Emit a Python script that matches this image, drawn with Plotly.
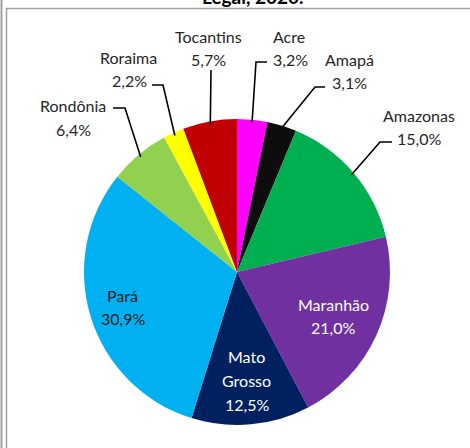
import math
import plotly.graph_objects as go

# ---- data ----
states = ["Acre", "Amapá", "Amazonas", "Maranhão", "Mato Grosso", "Pará",
          "Rondônia", "Roraima", "Tocantins"]
shares = [3.2, 3.1, 15.0, 21.0, 12.5, 30.9, 6.4, 2.2, 5.7]
value_labels = ["3,2%", "3,1%", "15,0%", "21,0%", "12,5%", "30,9%", "6,4%", "2,2%", "5,7%"]
colors = ["#FF00FF", "#0D0D0D", "#00B050", "#7030A0", "#002060", "#00B0F0",
          "#92D050", "#FFFF00", "#C00000"]
title_text = "Legal, 2020."

W, H = 470, 448
CX, CY, R = 237, 272, 153  # pie centre / radius in pixels (layout)


def px(x):
    return x / W


def py(y):
    return 1 - y / H


fig = go.Figure(go.Pie(
    labels=states, values=shares, sort=False, direction="clockwise", rotation=0,
    marker=dict(colors=colors, line=dict(width=0)), textinfo="none",
    hoverinfo="label+percent", showlegend=False,
    domain=dict(x=[px(CX - R), px(CX + R)], y=[py(CY + R), py(CY - R)]),
))

FONT = "Lato, 'Open Sans', sans-serif"
FS = 16

# slice mid angles (clockwise from 12 o'clock) derived from data
total = sum(shares)
mid = {}
cum = 0.0
for s, v in zip(states, shares):
    mid[s] = (cum + v / 2) / total * 2 * math.pi
    cum += v


def edge_point(s, f):
    a = mid[s]
    return CX + f * R * math.sin(a), CY - f * R * math.cos(a)


annotations = []
shapes = []

def add_text(x, y, t, color="#262626", size=FS, bold=False):
    annotations.append(dict(
        x=px(x), y=py(y), xref="paper", yref="paper", text=("<b>%s</b>" % t if bold else t),
        showarrow=False, xanchor="center", yanchor="middle",
        font=dict(family=FONT, size=size, color=color)))

# outside labels: (name centre, value centre, leader elbow horizontal segment)
outside = {
    "Tocantins": ((208, 37), (208, 60), [(211, 70)]),
    "Acre": ((289, 37), (290, 60), [(267, 62), (256, 62)]),
    "Amapá": ((349, 59), (349, 82), [(325, 87), (315, 87)]),
    "Amazonas": ((419, 115), (419, 138), [(392, 142), (380, 142)]),
    "Roraima": ((128, 58), (129, 80), [(152, 85), (163, 85)]),
    "Rondônia": ((73, 106), (73, 129), [(113, 108), (125, 108)]),
}
for s, (nc, vc, pts) in outside.items():
    i = states.index(s)
    add_text(nc[0], nc[1], s)
    add_text(vc[0], vc[1], value_labels[i])
    ex, ey = edge_point(s, 0.98)
    path_pts = pts + [(ex, ey)]
    d = "M %f %f " % (px(path_pts[0][0]), py(path_pts[0][1]))
    for (x, y) in path_pts[1:]:
        d += "L %f %f " % (px(x), py(y))
    shapes.append(dict(type="path", path=d, xref="paper", yref="paper",
                       line=dict(color="#000000", width=1.6)))

# inside labels placed along slice mid angles
inside = {
    "Maranhão": (0.69, "#FFFFFF"),
    "Pará": (0.78, "#1A1A1A"),
}
for s, (f, col) in inside.items():
    i = states.index(s)
    x, y = edge_point(s, f)
    add_text(x, y - 11.5, s, col)
    add_text(x, y + 11.5, value_labels[i], col)

# Mato Grosso (three lines)
i = states.index("Mato Grosso")
x, y = edge_point("Mato Grosso", 0.71)
add_text(x, y - 24, "Mato", "#FFFFFF")
add_text(x, y, "Grosso", "#FFFFFF")
add_text(x, y + 24, value_labels[i], "#FFFFFF")

# title (cut at top, as in the reference)
add_text(253, -4, title_text, "#000000", size=19, bold=True)

# chart frame
shapes += [
    dict(type="line", xref="paper", yref="paper", x0=px(1.5), x1=px(1.5), y0=0, y1=1,
         line=dict(color="#A0A0A0", width=2)),
    dict(type="line", xref="paper", yref="paper", x0=px(6.5), x1=px(6.5), y0=0, y1=py(8),
         line=dict(color="#A0A0A0", width=1.5)),
    dict(type="line", xref="paper", yref="paper", x0=px(6), x1=1, y0=py(8.5), y1=py(8.5),
         line=dict(color="#A0A0A0", width=1.5)),
]

fig.update_layout(
    width=W, height=H, margin=dict(l=0, r=0, t=0, b=0),
    paper_bgcolor="#FFFFFF", plot_bgcolor="#FFFFFF",
    annotations=annotations, shapes=shapes,
)

fig.write_html("out.html", config={"displayModeBar": False},
               post_script="document.body.style.margin='0';")
